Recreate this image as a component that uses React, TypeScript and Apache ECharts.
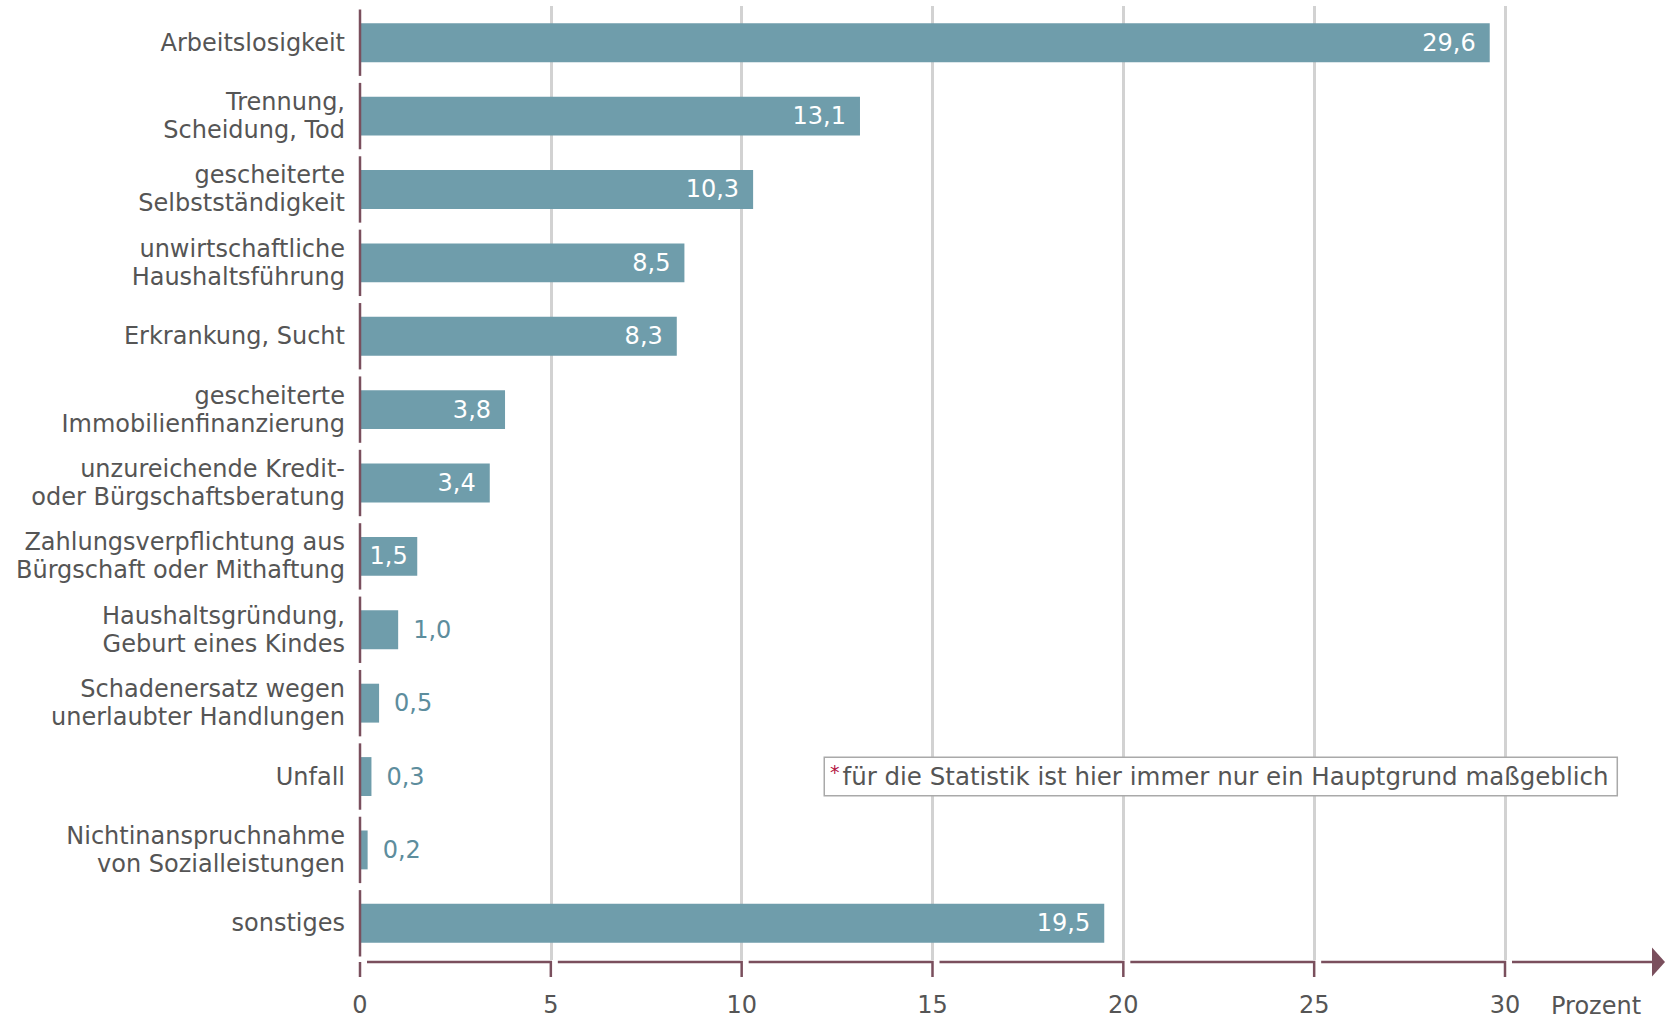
import React, { useEffect, useRef } from 'react';
import * as echarts from 'echarts';

const CATEGORIES = [
  'Arbeitslosigkeit',
  'Trennung,\nScheidung, Tod',
  'gescheiterte\nSelbstständigkeit',
  'unwirtschaftliche\nHaushaltsführung',
  'Erkrankung, Sucht',
  'gescheiterte\nImmobilienfinanzierung',
  'unzureichende Kredit-\noder Bürgschaftsberatung',
  'Zahlungsverpflichtung aus\nBürgschaft oder Mithaftung',
  'Haushaltsgründung,\nGeburt eines Kindes',
  'Schadenersatz wegen\nunerlaubter Handlungen',
  'Unfall',
  'Nichtinanspruchnahme\nvon Sozialleistungen',
  'sonstiges',
];
const VALUES = [29.6, 13.1, 10.3, 8.5, 8.3, 3.8, 3.4, 1.5, 1.0, 0.5, 0.3, 0.2, 19.5];
const X_TICKS = [0, 5, 10, 15, 20, 25, 30];
const X_UNIT = 'Prozent';
const NOTE_MARK = '*';
const NOTE = 'für die Statistik ist hier immer nur ein Hauptgrund maßgeblich';

const FONT = '"DejaVu Sans", Verdana, sans-serif';
const TEXT = '#555555';
const BAR = '#6f9dab';
const BAR_TEXT_OUT = '#5d8d9d';
const AXIS = '#7a4f5d';
const GRID = '#d2d2d2';

const fmt = (v: number) => v.toFixed(1).replace('.', ',');

function labelFor(v: number) {
  if (v < 1.2) {
    return { position: 'right', distance: 15, color: BAR_TEXT_OUT };
  }
  if (v < 2) {
    return { position: 'inside', color: '#ffffff' };
  }
  return { position: 'insideRight', distance: 14, color: '#ffffff' };
}

export default function App() {
  const ref = useRef<HTMLDivElement>(null);
  useEffect(() => {
    if (!ref.current) return;
    const chart = echarts.init(ref.current, undefined, { renderer: 'svg' });
    const last = CATEGORIES.length - 1;
    const option: any = {
      animation: false,
      backgroundColor: '#ffffff',
      grid: { left: 360, right: 161, top: 6, bottom: 61, containLabel: false },
      xAxis: {
        type: 'value',
        min: 0,
        max: 30,
        interval: 5,
        axisLine: { show: false },
        axisTick: { show: false },
        splitLine: { show: true, showMinLine: false, lineStyle: { color: GRID, width: 3 } },
        axisLabel: { margin: 33, fontSize: 24, color: TEXT, fontFamily: FONT },
      },
      yAxis: {
        type: 'category',
        data: CATEGORIES,
        inverse: true,
        axisLine: { show: false },
        axisTick: { show: false },
        splitLine: { show: false },
        axisLabel: {
          margin: 15,
          fontSize: 24,
          lineHeight: 28,
          color: TEXT,
          fontFamily: FONT,
          align: 'right',
        },
      },
      series: [
        {
          type: 'bar',
          data: VALUES.map((v) => ({ value: v, label: labelFor(v) })),
          barCategoryGap: '47%',
          itemStyle: { color: BAR },
          label: {
            show: true,
            fontSize: 24,
            fontFamily: FONT,
            formatter: (p: any) => fmt(p.value),
          },
          silent: true,
        },
        {
          type: 'custom',
          silent: true,
          clip: false,
          data: CATEGORIES.map((_, i) => [0, i]),
          encode: { x: 0, y: 1 },
          renderItem: (params: any, api: any) => {
            const p = api.coord([0, api.value(1)]);
            const band = api.size([0, 1])[1];
            return {
              type: 'line',
              shape: { x1: p[0], y1: p[1] - band / 2 + 3.5, x2: p[0], y2: p[1] + band / 2 - 3.5 },
              style: { stroke: AXIS, lineWidth: 2.5 },
            };
          },
          z: 5,
        },
        {
          type: 'custom',
          silent: true,
          clip: false,
          data: X_TICKS.map((t) => [t, last]),
          encode: { x: 0, y: 1 },
          renderItem: (params: any, api: any) => {
            const idx = params.dataIndex;
            const p = api.coord([api.value(0), last]);
            const band = api.size([0, 1])[1];
            const y = p[1] + band / 2 + 2;
            const st = { stroke: AXIS, lineWidth: 2.5, fill: null };
            const children: any[] = [];
            if (idx > 0) {
              const prev = api.coord([X_TICKS[idx - 1], last]);
              children.push({
                type: 'polyline',
                shape: { points: [[prev[0] + 7, y], [p[0], y], [p[0], y + 15]] },
                style: st,
              });
            } else {
              children.push({
                type: 'line',
                shape: { x1: p[0], y1: y, x2: p[0], y2: y + 15 },
                style: st,
              });
            }
            if (idx === X_TICKS.length - 1) {
              const tip = api.getWidth() - 1;
              children.push({
                type: 'line',
                shape: { x1: p[0] + 7, y1: y, x2: tip - 10, y2: y },
                style: st,
              });
              children.push({
                type: 'polygon',
                shape: { points: [[tip - 13, y - 14.5], [tip, y], [tip - 13, y + 14.5]] },
                style: { fill: AXIS },
              });
            }
            return { type: 'group', children };
          },
          z: 5,
        },
      ],
      graphic: [
        {
          type: 'text',
          x: 1551,
          y: 1006,
          silent: true,
          style: {
            text: X_UNIT,
            fontSize: 24,
            fontFamily: FONT,
            fill: TEXT,
            verticalAlign: 'middle',
            align: 'left',
          },
        },
        {
          type: 'text',
          x: 825,
          y: 758,
          silent: true,
          z: 10,
          style: {
            text: '{m|' + NOTE_MARK + '}{t|' + NOTE + '}',
            rich: {
              m: { fontSize: 19, fill: '#b3143f', fontFamily: FONT, verticalAlign: 'top', padding: [0, 3, 10, 0] },
              t: { fontSize: 24.5, fill: TEXT, fontFamily: FONT },
            },
            fontSize: 24.5,
            fontFamily: FONT,
            fill: TEXT,
            backgroundColor: '#ffffff',
            borderColor: '#a9a9a9',
            borderWidth: 1.5,
            padding: [4, 8, 4, 5],
            align: 'left',
            verticalAlign: 'top',
          },
        },
      ],
    };
    chart.setOption(option);
    return () => chart.dispose();
  }, []);
  return (
    <div
      ref={ref}
      style={{ position: 'absolute', left: 0, top: 0, width: 1666, height: 1021 }}
    />
  );
}
